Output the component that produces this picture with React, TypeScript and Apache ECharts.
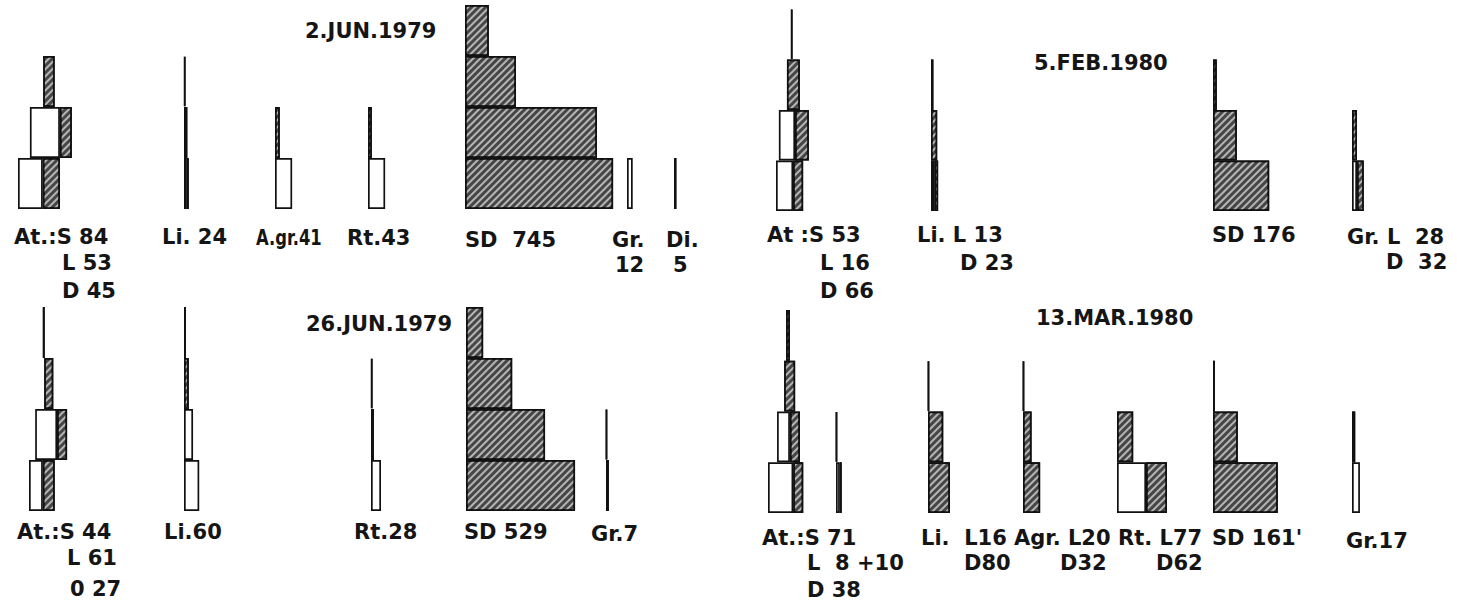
import React, { useEffect, useRef } from "react";
import * as echarts from "echarts";

// Age classes, listed bottom -> top
const ageClasses = ["I", "II", "III", "IV"];

// Widths in individuals per age class (bottom -> top).
// gap = empty space before the bar, open = white part, shaded = hatched part
// ---- 2. JUN. 1979 ----
const jun2AtGap = [0, 25, 53, 0];
const jun2AtOpen = [52, 63, null, null];
const jun2AtShaded = [36, 25, 24, null];
const jun2LiOpen = [6, null, null, null];
const jun2LiShaded = [4, 7, 3, null];
const jun2AgrOpen = [36, null, null, null];
const jun2AgrShaded = [null, 10, null, null];
const jun2RtOpen = [36, null, null, null];
const jun2RtShaded = [null, 8, null, null];
const jun2SdShaded = [311, 277, 107, 50];
const jun2GrOpen = [12, null, null, null];
const jun2DiShaded = [5, null, null, null];
// ---- 5. FEB. 1980 ----
const feb5AtGap = [0, 6, 23, 32];
const feb5AtOpen = [36, 34, null, null];
const feb5AtShaded = [21, 29, 27, 2];
const feb5LiOpen = [7, null, null, null];
const feb5LiShaded = [8, 13, 5, null];
const feb5SdShaded = [118, 50, 8, null];
const feb5GrOpen = [17, null, null, null];
const feb5GrShaded = [23, 17, null, null];
// ---- 26. JUN. 1979 ----
const jun26AtGap = [0, 13, 32, 29];
const jun26AtOpen = [29, 46, null, null];
const jun26AtShaded = [25, 21, 19, 4];
const jun26LiOpen = [32, 19, null, null];
const jun26LiShaded = [null, null, 10, 4];
const jun26RtOpen = [21, null, null, null];
const jun26RtShaded = [null, 6, 3, null];
const jun26SdShaded = [229, 166, 97, 36];
const jun26GrShaded = [6, 2, null, null];
// ---- 13. MAR. 1980 ----
const mar13AtGap = [0, 19, 34, 38];
const mar13AtOpen = [53, 27, null, null];
const mar13AtShaded = [21, 21, 23, 8];
const mar13At2Open = [8, null, null, null];
const mar13At2Shaded = [4, 2, null, null];
const mar13LiShaded = [46, 32, 2, null];
const mar13AgrShaded = [36, 18, 2, null];
const mar13RtOpen = [61, null, null, null];
const mar13RtShaded = [44, 34, null, null];
const mar13SdShaded = [136, 52, 4, null];
const mar13GrOpen = [27, null, null, null];
const mar13GrShaded = [null, 11, null, null];

// Panel texts
const dateTitles = ["2.JUN.1979", "5.FEB.1980", "26.JUN.1979", "13.MAR.1980"];

type Arr = (number | null)[] | undefined;
type ChartDef = { left: number; panel: number; gap?: Arr; open?: Arr; shaded?: Arr };

// Panel layout: top & height of the 4 age-class rows
const panels = [
  { top: 5, height: 204 },
  { top: 9, height: 202 },
  { top: 307, height: 204 },
  { top: 310, height: 203 },
];

const charts: ChartDef[] = [
  { left: 18, panel: 0, gap: jun2AtGap, open: jun2AtOpen, shaded: jun2AtShaded },
  { left: 184, panel: 0, open: jun2LiOpen, shaded: jun2LiShaded },
  { left: 275, panel: 0, open: jun2AgrOpen, shaded: jun2AgrShaded },
  { left: 368, panel: 0, open: jun2RtOpen, shaded: jun2RtShaded },
  { left: 465, panel: 0, shaded: jun2SdShaded },
  { left: 627, panel: 0, open: jun2GrOpen },
  { left: 674, panel: 0, shaded: jun2DiShaded },
  { left: 776, panel: 1, gap: feb5AtGap, open: feb5AtOpen, shaded: feb5AtShaded },
  { left: 931, panel: 1, open: feb5LiOpen, shaded: feb5LiShaded },
  { left: 1213, panel: 1, shaded: feb5SdShaded },
  { left: 1352, panel: 1, open: feb5GrOpen, shaded: feb5GrShaded },
  { left: 29, panel: 2, gap: jun26AtGap, open: jun26AtOpen, shaded: jun26AtShaded },
  { left: 184, panel: 2, open: jun26LiOpen, shaded: jun26LiShaded },
  { left: 371, panel: 2, open: jun26RtOpen, shaded: jun26RtShaded },
  { left: 466, panel: 2, shaded: jun26SdShaded },
  { left: 606, panel: 2, shaded: jun26GrShaded },
  { left: 768, panel: 3, gap: mar13AtGap, open: mar13AtOpen, shaded: mar13AtShaded },
  { left: 836, panel: 3, open: mar13At2Open, shaded: mar13At2Shaded },
  { left: 928, panel: 3, shaded: mar13LiShaded },
  { left: 1023, panel: 3, shaded: mar13AgrShaded },
  { left: 1117, panel: 3, open: mar13RtOpen, shaded: mar13RtShaded },
  { left: 1213, panel: 3, shaded: mar13SdShaded },
  { left: 1352, panel: 3, open: mar13GrOpen, shaded: mar13GrShaded },
];

// Text labels: [text, x, y, horizontal squeeze]
const labels: [string, number, number, number][] = [
  ["At.:S 84", 14, 237, 1], ["L 53", 62, 263, 1], ["D 45", 62, 291, 1],
  ["Li. 24", 162, 237, 1], ["A.gr.41", 256, 238, 0.78], ["Rt.43", 347, 238, 1],
  ["SD  745", 465, 240, 1], ["Gr.", 612, 240, 1], ["12", 615, 265, 1], ["Di.", 666, 240, 1], ["5", 673, 265, 1],
  ["At :S 53", 767, 235, 1], ["L 16", 820, 263, 1], ["D 66", 820, 291, 1],
  ["Li. L 13", 917, 235, 1], ["D 23", 960, 263, 1],
  ["SD 176", 1212, 235, 1], ["Gr. L  28", 1347, 237, 1], ["D  32", 1386, 262, 1],
  ["At.:S 44", 17, 532, 1], ["L 61", 67, 558, 1], ["0 27", 70, 589, 1],
  ["Li.60", 164, 532, 1], ["Rt.28", 354, 532, 1], ["SD 529", 464, 532, 1], ["Gr.7", 591, 534, 1],
  ["At.:S 71", 762, 538, 1], ["L  8 +10", 807, 563, 1], ["D 38", 807, 590, 1],
  ["Li.  L16", 921, 538, 1], ["D80", 964, 563, 1],
  ["Agr. L20", 1014, 538, 1], ["D32", 1060, 563, 1],
  ["Rt. L77", 1118, 538, 1], ["D62", 1156, 563, 1],
  ["SD 161'", 1212, 538, 1], ["Gr.17", 1346, 541, 1],
];
const titlePos: [number, number][] = [[305, 31], [1034, 63], [306, 324], [1036, 318]];

const PX_PER_IND = 1 / 2.1;
const GRID_W = 170;
const X_MAX = GRID_W / PX_PER_IND;
const FONT = '"DejaVu Sans", "Liberation Sans", sans-serif';

function buildOption() {
  const grid: any[] = [];
  const xAxis: any[] = [];
  const yAxis: any[] = [];
  const series: any[] = [];
  const toData = (a: Arr) => ageClasses.map((_, i) => (a && a[i] != null ? a[i] : "-"));
  charts.forEach((c, i) => {
    const p = panels[c.panel];
    grid.push({ left: c.left, top: p.top, width: GRID_W, height: p.height, show: false });
    xAxis.push({ type: "value", gridIndex: i, min: 0, max: X_MAX, show: false });
    yAxis.push({ type: "category", gridIndex: i, data: ageClasses, show: false });
    const common = { type: "bar", xAxisIndex: i, yAxisIndex: i, stack: "s" + i, barWidth: "100%", silent: true };
    series.push({
      ...common,
      data: ageClasses.map((_, k) => (c.gap && c.gap[k] != null ? c.gap[k] : 0)),
      itemStyle: { color: "rgba(0,0,0,0)", borderWidth: 0 },
    });
    series.push({
      ...common,
      data: toData(c.open),
      itemStyle: { color: "#ffffff", borderColor: "#111", borderWidth: 1.7 },
    });
    series.push({
      ...common,
      data: toData(c.shaded),
      itemStyle: {
        color: "#464646",
        borderColor: "#111",
        borderWidth: 1.7,
        decal: {
          symbol: "rect",
          symbolSize: 1,
          color: "rgba(225,225,225,0.72)",
          dashArrayX: [1, 0],
          dashArrayY: [2, 2.2],
          rotation: -Math.PI / 4,
        },
      },
    });
  });
  const graphic: any[] = [];
  labels.forEach(([t, x, y, sx]) => {
    graphic.push({
      type: "text", x, y, scaleX: sx, silent: true,
      style: { text: t, font: `bold 21px ${FONT}`, fill: "#151515", align: "left", verticalAlign: "middle" },
    });
  });
  dateTitles.forEach((t, i) => {
    graphic.push({
      type: "text", x: titlePos[i][0], y: titlePos[i][1], silent: true,
      style: { text: t, font: `bold 21px ${FONT}`, fill: "#151515", align: "left", verticalAlign: "middle" },
    });
  });
  return { animation: false, backgroundColor: "#ffffff", grid, xAxis, yAxis, series, graphic };
}

export default function App() {
  const ref = useRef<HTMLDivElement>(null);
  useEffect(() => {
    document.body.style.margin = "0";
    if (!ref.current) return;
    const chart = echarts.init(ref.current, null, { renderer: "svg" });
    chart.setOption(buildOption() as any);
    return () => chart.dispose();
  }, []);
  return <div ref={ref} style={{ position: "fixed", left: 0, top: 0, width: 1457, height: 606 }} />;
}
